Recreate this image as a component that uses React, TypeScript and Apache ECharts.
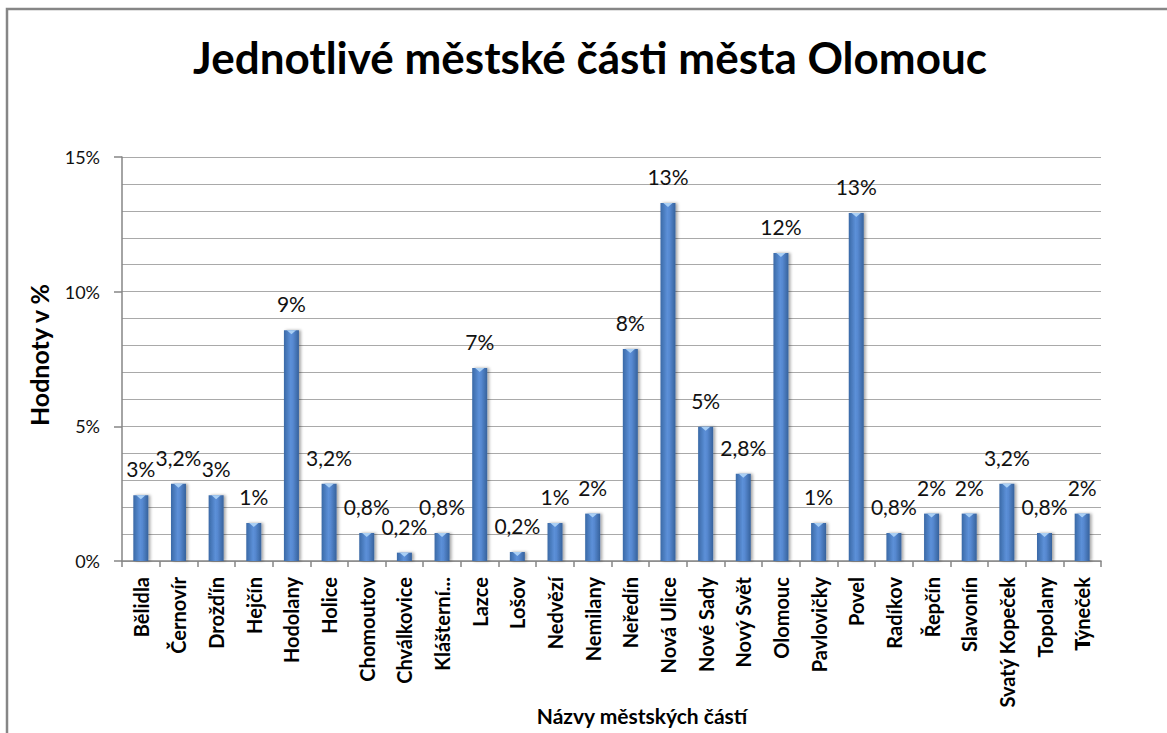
import React, { useEffect, useRef } from "react";
import * as echarts from "echarts";

const categories = [
  "Bělidla", "Černovír", "Drožďín", "Hejčín", "Hodolany", "Holice", "Chomoutov",
  "Chválkovice", "Klášterní...", "Lazce", "Lošov", "Nedvězí", "Nemilany", "Neředín",
  "Nová Ulice", "Nové Sady", "Nový Svět", "Olomouc", "Pavlovičky", "Povel", "Radíkov",
  "Řepčín", "Slavonín", "Svatý Kopeček", "Topolany", "Týneček",
];
const values = [
  2.44, 2.87, 2.44, 1.41, 8.57, 2.87, 1.04, 0.31, 1.04, 7.17, 0.33, 1.41, 1.76,
  7.87, 13.29, 4.98, 3.24, 11.44, 1.41, 12.92, 1.04, 1.76, 1.76, 2.87, 1.04, 1.76,
];
const valueLabels = [
  "3%", "3,2%", "3%", "1%", "9%", "3,2%", "0,8%", "0,2%", "0,8%", "7%", "0,2%", "1%", "2%",
  "8%", "13%", "5%", "2,8%", "12%", "1%", "13%", "0,8%", "2%", "2%", "3,2%", "0,8%", "2%",
];
const yTicks = [0, 5, 10, 15];

const chartTitle = "Jednotlivé městské části města Olomouc";
const xTitle = "Názvy městských částí";
const yTitle = "Hodnoty v %";

const FONT = "Lato, 'Open Sans', sans-serif";

export default function App() {
  const ref = useRef<HTMLDivElement>(null);
  useEffect(() => {
    if (!ref.current) return;
    const chart = echarts.init(ref.current, null, { renderer: "svg" });
    const barColor = new echarts.graphic.LinearGradient(0, 0, 1, 0, [
      { offset: 0, color: "#3A69A6" },
      { offset: 0.45, color: "#5C90D8" },
      { offset: 0.6, color: "#5789D1" },
      { offset: 1, color: "#36629C" },
    ]);
    chart.setOption({
      animation: false,
      backgroundColor: "#ffffff",
      textStyle: { fontFamily: FONT },
      grid: { left: 122, top: 157, width: 979, height: 404, containLabel: false },
      xAxis: {
        type: "category",
        data: categories,
        axisLine: { show: true, lineStyle: { color: "#868686", width: 1.5 } },
        axisTick: { show: true, length: 6, lineStyle: { color: "#868686", width: 1.5 } },
        axisLabel: {
          rotate: 90,
          interval: 0,
          margin: 16,
          fontFamily: FONT,
          fontSize: 20,
          fontWeight: "bold",
          color: "#000",
        },
      },
      yAxis: {
        type: "value",
        min: yTicks[0],
        max: yTicks[yTicks.length - 1],
        interval: 5,
        axisLine: { show: true, lineStyle: { color: "#868686", width: 1.5 } },
        axisTick: { show: true, length: 8, lineStyle: { color: "#868686", width: 1.5 } },
        axisLabel: {
          formatter: "{value}%",
          margin: 22,
          fontFamily: FONT,
          fontSize: 18,
          color: "#111",
        },
        splitLine: { show: true, lineStyle: { color: "#A9A9A9", width: 1.2 } },
        minorTick: { show: false, splitNumber: 5 },
        minorSplitLine: { show: true, lineStyle: { color: "#A9A9A9", width: 1.2 } },
      },
      series: [
        {
          type: "bar",
          data: values,
          barWidth: 15,
          itemStyle: {
            color: barColor,
            shadowColor: "rgba(0,0,0,0.35)",
            shadowBlur: 3,
            shadowOffsetX: 2,
            shadowOffsetY: 0,
          },
          label: {
            show: true,
            position: "top",
            distance: 16,
            fontFamily: FONT,
            fontSize: 21,
            color: "#111",
            formatter: (p: any) => valueLabels[p.dataIndex],
          },
          z: 2,
        },
        {
          type: "pictorialBar",
          data: values,
          symbol: "path://M0,0 L10,0 L5,5 Z",
          symbolSize: [9, 4],
          symbolPosition: "end",
          symbolOffset: [0, 0],
          itemStyle: { color: "#A9CFF5" },
          z: 3,
          silent: true,
        },
      ],
      graphic: [
        {
          type: "rect",
          shape: { x: 7, y: 9, width: 1300, height: 900 },
          style: { fill: "none", stroke: "#868686", lineWidth: 2.5 },
          silent: true,
        },
        {
          type: "text",
          x: 590,
          y: 57,
          style: {
            text: chartTitle,
            fontFamily: FONT,
            fontSize: 44,
            fontWeight: "bold",
            fill: "#000",
            textAlign: "center",
            textVerticalAlign: "middle",
          },
        },
        {
          type: "text",
          x: 642,
          y: 715,
          style: {
            text: xTitle,
            fontFamily: FONT,
            fontSize: 21,
            fontWeight: "bold",
            fill: "#000",
            textAlign: "center",
            textVerticalAlign: "middle",
          },
        },
        {
          type: "text",
          x: 39,
          y: 355,
          rotation: Math.PI / 2,
          style: {
            text: yTitle,
            fontFamily: FONT,
            fontSize: 25,
            fontWeight: "bold",
            fill: "#000",
            textAlign: "center",
            textVerticalAlign: "middle",
          },
        },
        {
          type: "rect",
          shape: { x: 1077, y: 642, width: 13, height: 3 },
          style: { fill: "#000" },
          silent: true,
        },
        {
          type: "line",
          shape: { x1: 1076.5, y1: 640, x2: 1076.5, y2: 650 },
          style: { stroke: "#333", lineWidth: 1.2 },
          silent: true,
        },
      ],
    });
    return () => chart.dispose();
  }, []);
  return (
    <div
      ref={ref}
      style={{ position: "absolute", left: 0, top: 0, width: 1167, height: 733 }}
    />
  );
}
